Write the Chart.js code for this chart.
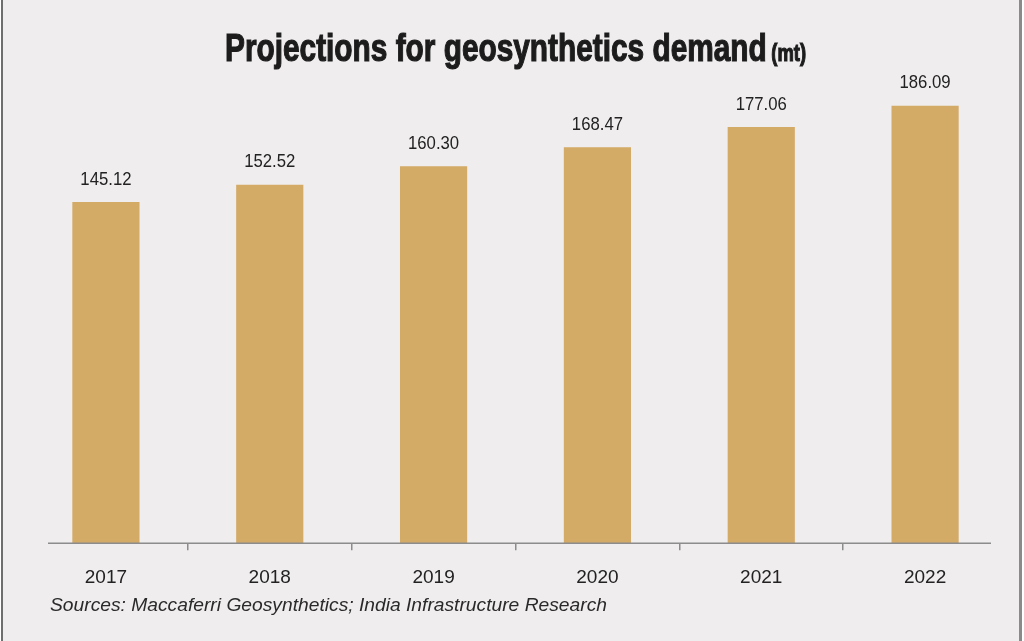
<!DOCTYPE html>
<html>
<head>
<meta charset="utf-8">
<script src="https://cdn.jsdelivr.net/npm/chart.js@4.4.1/dist/chart.umd.min.js"></script>
<style>
  html, body { margin: 0; padding: 0; background: #fff; }
  #box {
    position: relative; height: 641px;
    background: #efeded; box-sizing: border-box;
    border-left: 2px solid #6e6e6e; border-right: 3px solid #8a8a8a;
    margin-left: 1px; width: 1021px;
  }
  #title {
    position: absolute; left: 222px; top: 26px; white-space: nowrap;
    font-family: "Liberation Sans Narrow", "Liberation Sans", Arial, sans-serif;
    font-weight: bold; color: #1c1c1c; transform-origin: 0 0;
    -webkit-text-stroke: 1.2px #1c1c1c;
  }
  #title .main { font-size: 39px; }
  #title .unit { font-size: 24px; margin-left: 6px; }
  #source {
    position: absolute; left: 47px; top: 594px; white-space: nowrap;
    font-family: "Liberation Sans", Arial, sans-serif; font-style: italic;
    font-size: 19px; color: #2a2a2a; transform-origin: 0 0;
  }
  #wrap { position: absolute; left: -3px; top: 0; width: 1024px; height: 641px; }
</style>
</head>
<body>
<div id="box">
  <div id="wrap"><canvas id="demand"></canvas></div>
  <div id="title"><span class="main">Projections for geosynthetics demand</span><span class="unit">(mt)</span></div>
  <div id="source">Sources: Maccaferri Geosynthetics; India Infrastructure Research</div>
</div>
<script>
// jaren en vraag in miljoen ton
const years = ['2017', '2018', '2019', '2020', '2021', '2022'];
const demand = [145.12, 152.52, 160.30, 168.47, 177.06, 186.09];

// tekst horizontaal passend maken (smalle kop zoals in het origineel)
function fitWidth(el, target) {
  const w = el.getBoundingClientRect().width;
  el.style.transform = 'scaleX(' + (target / w) + ')';
}
fitWidth(document.getElementById('title'), 581);
fitWidth(document.getElementById('source'), 557);

// basislijn van de x-as zelf tekenen, korter dan het chartvlak
const baseline = {
  id: 'baseline',
  afterDatasetsDraw(chart) {
    const ctx = chart.ctx;
    const y = chart.scales.y.getPixelForValue(0);
    ctx.save();
    ctx.strokeStyle = '#8c8c8c';
    ctx.lineWidth = 1.5;
    ctx.beginPath();
    ctx.moveTo(48, y);
    ctx.lineTo(991, y);
    ctx.stroke();
    ctx.restore();
  }
};

// waarde boven elke staaf, iets smaller getekend
const valueLabels = {
  id: 'valueLabels',
  afterDatasetsDraw(chart) {
    const ctx = chart.ctx;
    const meta = chart.getDatasetMeta(0);
    ctx.save();
    ctx.font = '19px "Liberation Sans", Arial, sans-serif';
    ctx.fillStyle = '#222';
    ctx.textAlign = 'center';
    ctx.textBaseline = 'bottom';
    meta.data.forEach((bar, i) => {
      ctx.save();
      ctx.translate(bar.x, bar.y - 13);
      ctx.scale(0.88, 1);
      ctx.fillText(demand[i].toFixed(2), 0, 0);
      ctx.restore();
    });
    ctx.restore();
  }
};

const config = {
  type: 'bar',
  data: {
    labels: years,
    datasets: [{
      label: 'Demand (mt)',
      data: demand,
      backgroundColor: '#d3aa66',
      borderWidth: 0,
      barPercentage: 0.82,
      categoryPercentage: 0.5
    }]
  },
  options: {
    responsive: false,
    animation: false,
    devicePixelRatio: 1,
    layout: { padding: { left: 24, right: 17, top: 73, bottom: 36 } },
    plugins: {
      legend: { display: false },
      tooltip: { enabled: false }
    },
    scales: {
      x: {
        border: { display: false },
        grid: {
          offset: true,
          drawOnChartArea: false,
          drawTicks: true,
          tickLength: 7,
          lineWidth: 1.5,
          color: (c) => (c.type !== 'tick' || c.index === 0) ? 'rgba(0,0,0,0)' : '#8c8c8c'
        },
        ticks: {
          color: '#222',
          padding: 16,
          font: { family: '"Liberation Sans", Arial, sans-serif', size: 19 }
        }
      },
      y: {
        display: false,
        min: 0,
        max: 200
      }
    }
  },
  plugins: [baseline, valueLabels]
};

const canvas = document.getElementById('demand');
canvas.width = 1024;
canvas.height = 641;
const myChart = new Chart(canvas, config);
</script>
</body>
</html>
